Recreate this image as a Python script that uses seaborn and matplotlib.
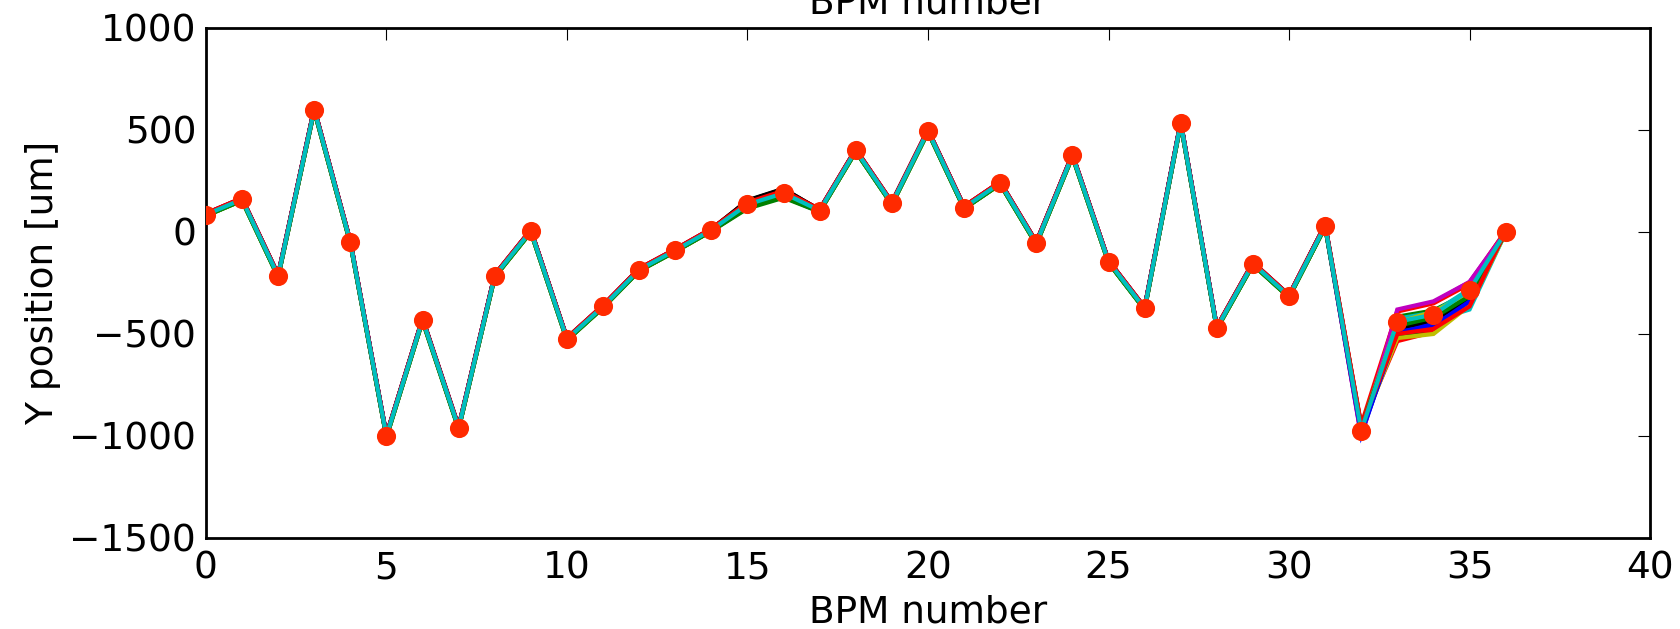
import numpy as np
import pandas as pd
import matplotlib
matplotlib.use("Agg")
import matplotlib.pyplot as plt
import seaborn as sns

# BPM index and the mean vertical orbit at each BPM [um]
bpm = list(range(37))
orbit_mean = [85, 160, -215, 600, -50, -1000, -430, -960, -215, 5,
              -525, -365, -185, -90, 10, 135, 190, 105, 400, 140,
              495, 120, 240, -55, 375, -145, -375, 535, -470, -155,
              -315, 30, -975, -440, -405, -285, 0]

# Per-shot offsets from the mean [um], one entry per recorded shot
trace_bias = [4, -5, 6, -3, 3, -4, 2, 5, -6, 6, 1, -2, -4, 3, 2, -5, 5, 0]
dev_bpm15 = [10, -15, 5, -5, 12, 0, 20, 8, -20, 15, 3, -8, -2, 18, 6, -12, 10, 0]
dev_bpm16 = [12, -18, 8, -6, 14, 2, 22, 10, -22, 16, 4, -10, 0, 20, 8, -14, 12, 0]
dev_bpm32 = [-20, 15, 25, -10, -30, 10, -5, 20, -15, 30, 5, -25, 15, 0, -10, 20, 25, 0]
dev_bpm33 = [-30, -75, -95, -10, 55, -80, -40, -45, 25, 50, 15, 60, -5, -35, -50, -20, -60, 0]
dev_bpm34 = [-35, -80, -85, -30, 60, -95, -40, -45, 20, 55, 10, 65, 15, -25, -55, -15, -70, 0]
dev_bpm35 = [-40, -60, -70, -95, 40, -75, -50, -35, -10, 30, 5, 40, -20, -45, -55, -30, -80, 0]

shot_colors = ["#0000ff", "#008000", "#ff0000", "#00bfbf", "#bf00bf", "#bfbf00", "#000000"]

sns.set_style("white")
plt.rcParams["font.family"] = ["DejaVu Sans"]
plt.rcParams["lines.solid_joinstyle"] = "miter"
for key in ("text.color", "axes.labelcolor", "xtick.color", "ytick.color"):
    plt.rcParams[key] = "black"

rows = []
n_shots = len(trace_bias)
specific = {15: dev_bpm15, 16: dev_bpm16, 32: dev_bpm32,
            33: dev_bpm33, 34: dev_bpm34, 35: dev_bpm35}
for s in range(n_shots):
    for i, b in enumerate(bpm):
        d = specific[b][s] if b in specific else trace_bias[s]
        rows.append({"shot": s, "bpm": b, "y": orbit_mean[i] + d})
df = pd.DataFrame(rows)

palette = [shot_colors[s % len(shot_colors)] for s in range(n_shots)]

fig = plt.figure(figsize=(16.81, 6.29), dpi=100)
ax = fig.add_axes([0.1225, 0.1447, 0.9816 - 0.1225, 0.9555 - 0.1447])

sns.lineplot(data=df, x="bpm", y="y", hue="shot", palette=palette,
             estimator=None, sort=False, legend=False, linewidth=3, ax=ax)
sns.scatterplot(x=bpm, y=orbit_mean, color="#ff2a00", s=190, linewidth=0,
                zorder=5, ax=ax)

ax.set_xlim(0, 40)
ax.set_ylim(-1500, 1000)
ax.set_xticks(range(0, 41, 5))
ax.set_yticks(range(-1500, 1001, 500))
ax.set_xlabel("BPM number", fontsize=27, labelpad=6)
ax.set_ylabel("Y position [um]", fontsize=27, labelpad=6)
ax.tick_params(axis="both", which="major", direction="in", length=8.5,
               width=0.8, labelsize=27, top=True, right=True, color="black")
ax.tick_params(axis="x", pad=9)
ax.tick_params(axis="y", pad=7)
for sp in ax.spines.values():
    sp.set_visible(True)
    sp.set_color("black")
    sp.set_linewidth(2)

# Label of the panel above, partly outside the canvas
fig.text((0.1225 + 0.9816) / 2, 1 - 13 / 629, "BPM number", fontsize=27,
         ha="center", va="baseline")

fig.savefig("out.png", dpi=100, facecolor="white")
